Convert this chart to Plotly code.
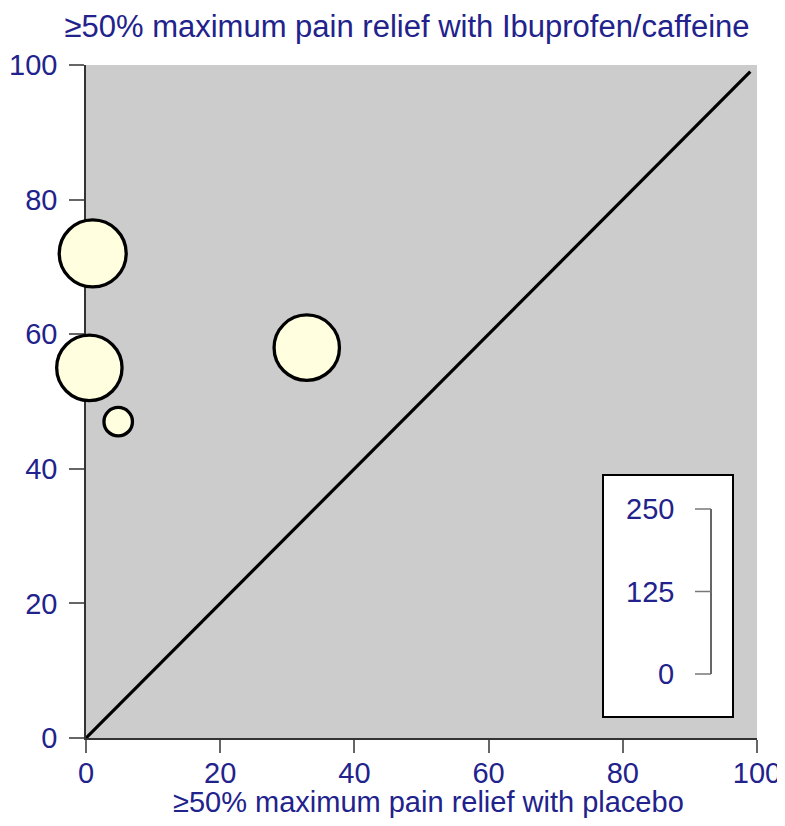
import plotly.graph_objects as go

# Data
placebo_pct = [1, 0.5, 4.8, 32.9]          # x: % with >=50% max pain relief, placebo
active_pct = [72, 55, 47, 58]              # y: % with >=50% max pain relief, ibuprofen/caffeine
patients = [105, 100, 19, 100]             # bubble size (trial size)
size_legend_vals = [0, 125, 250]
x_ticks = [0, 20, 40, 60, 80, 100]
y_ticks = [0, 20, 40, 60, 80, 100]
equality = [0, 99]

NAVY = "#22228c"
FONT = "Liberation Sans, Arial, sans-serif"
TICK_SIZE = 29
TITLE_SIZE = 31
XTITLE_SIZE = 29

# page body has an 8px margin; work in window pixels and convert
OFF = 8
WIN_W, WIN_H = 785, 826
FIG_W, FIG_H = WIN_W - OFF, WIN_H - 2 * OFF
L, R, B, T = 86, 757, 738, 65     # plot area in window pixels
W, H = R - L, B - T

def px(xp):
    return (xp - L) / W

def py(yp):
    return (B - yp) / H

fig = go.Figure()

fig.add_trace(go.Scatter(
    x=equality, y=equality, mode="lines",
    line=dict(color="black", width=3.2), hoverinfo="skip", cliponaxis=False,
))

max_px = 67
sizeref = 2.0 * max(patients) / (max_px ** 2)
fig.add_trace(go.Scatter(
    x=placebo_pct, y=active_pct, mode="markers",
    marker=dict(size=patients, sizemode="area", sizeref=sizeref,
                color="#ffffe0", line=dict(color="black", width=3.3), opacity=1),
    cliponaxis=False,
))

# Size legend box
fig.add_shape(type="rect", xref="paper", yref="paper",
              x0=px(603), x1=px(733), y0=py(717), y1=py(475),
              fillcolor="white", line=dict(color="black", width=2))

y_lo, y_hi = py(674), py(509)
fig.add_shape(type="line", xref="paper", yref="paper",
              x0=px(711), x1=px(711), y0=y_lo, y1=y_hi,
              line=dict(color="#333333", width=1.5))
for v in size_legend_vals:
    yy = y_lo + (y_hi - y_lo) * v / max(size_legend_vals)
    fig.add_shape(type="line", xref="paper", yref="paper",
                  x0=px(695), x1=px(711), y0=yy, y1=yy,
                  line=dict(color="#777777", width=1.5))
    fig.add_annotation(xref="paper", yref="paper", x=px(676), y=yy,
                       text=str(v), showarrow=False, xanchor="right",
                       yanchor="middle",
                       font=dict(family=FONT, size=TICK_SIZE, color=NAVY))

# x-axis title
fig.add_annotation(xref="paper", yref="paper", x=px(428), y=py(802),
                   text="≥50% maximum pain relief with placebo", showarrow=False,
                   xanchor="center", yanchor="middle",
                   font=dict(family=FONT, size=XTITLE_SIZE, color=NAVY))

fig.update_layout(
    width=FIG_W, height=FIG_H,
    margin=dict(l=L - OFF, r=FIG_W - (R - OFF), t=T - OFF, b=FIG_H - (B - OFF),
                autoexpand=False),
    paper_bgcolor="white", plot_bgcolor="#cccccc",
    showlegend=False,
    font=dict(family=FONT, size=TICK_SIZE, color=NAVY),
    title=dict(text="≥50% maximum pain relief with Ibuprofen/caffeine",
               x=(407 - OFF) / FIG_W, xanchor="center",
               y=1 - (26 - OFF) / FIG_H, yanchor="middle",
               font=dict(family=FONT, size=TITLE_SIZE, color=NAVY)),
)
fig.update_xaxes(
    range=[0, 100], tickvals=x_ticks, ticks="outside", ticklen=13, tickwidth=1.5,
    tickcolor="#666666", showline=True, linecolor="#333333", linewidth=1.5,
    showgrid=False, zeroline=False, layer="below traces", automargin=False,
    ticklabelstandoff=-5,
    tickfont=dict(family=FONT, size=TICK_SIZE, color=NAVY),
)
fig.update_yaxes(
    range=[0, 100], tickvals=y_ticks, ticks="outside", ticklen=15, tickwidth=1.5,
    tickcolor="#666666", showline=True, linecolor="#333333", linewidth=1.5,
    showgrid=False, zeroline=False, layer="below traces", automargin=False,
    ticklabelstandoff=6,
    tickfont=dict(family=FONT, size=TICK_SIZE, color=NAVY),
)

fig.write_html("out.html")
